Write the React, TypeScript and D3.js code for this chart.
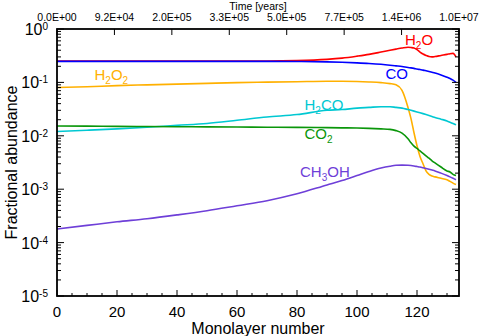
import React, { useEffect, useRef } from 'react'
import * as d3 from 'd3'

// monolayer grid shared by every species
const monolayer = [0, 10, 20, 30, 40, 50, 60, 70, 80, 90, 95, 100, 104, 108, 111, 113, 115, 117, 118, 119, 120, 121, 122, 123, 124, 125, 126, 128, 130, 131, 132, 133]

const h2o = [0.252, 0.252, 0.252, 0.252, 0.252, 0.252, 0.252, 0.252, 0.256, 0.27, 0.285, 0.31, 0.335, 0.37, 0.4, 0.42, 0.44, 0.455, 0.45, 0.44, 0.41, 0.37, 0.34, 0.32, 0.305, 0.3, 0.305, 0.32, 0.335, 0.345, 0.35, 0.3]
const co = [0.248, 0.248, 0.248, 0.248, 0.248, 0.248, 0.248, 0.248, 0.246, 0.242, 0.238, 0.232, 0.226, 0.218, 0.21, 0.204, 0.198, 0.19, 0.187, 0.183, 0.178, 0.174, 0.17, 0.165, 0.16, 0.155, 0.15, 0.138, 0.125, 0.118, 0.11, 0.1]
const h2o2 = [0.08, 0.083, 0.087, 0.09, 0.093, 0.096, 0.099, 0.101, 0.103, 0.105, 0.105, 0.104, 0.102, 0.099, 0.095, 0.09, 0.071, 0.034, 0.021, 0.0114, 0.0065, 0.0041, 0.003, 0.0022, 0.0019, 0.00176, 0.0017, 0.0016, 0.0015, 0.0014, 0.0013, 0.00122]
const h2co = [0.012, 0.0127, 0.0135, 0.0145, 0.0157, 0.017, 0.0195, 0.0225, 0.025, 0.03, 0.031, 0.033, 0.034, 0.035, 0.035, 0.034, 0.033, 0.031, 0.03, 0.029, 0.028, 0.027, 0.026, 0.025, 0.024, 0.023, 0.022, 0.0205, 0.019, 0.018, 0.017, 0.016]
const co2 = [0.0153, 0.0152, 0.015, 0.0149, 0.0148, 0.0147, 0.0146, 0.0145, 0.0144, 0.0142, 0.0141, 0.014, 0.0138, 0.0135, 0.0132, 0.0125, 0.0112, 0.0088, 0.0074, 0.0064, 0.0058, 0.0052, 0.0047, 0.0042, 0.0038, 0.0034, 0.0031, 0.0026, 0.0022, 0.0021, 0.0019, 0.0018]
const ch3oh = [1.8e-4, 2.1e-4, 2.45e-4, 2.8e-4, 3.3e-4, 3.95e-4, 4.9e-4, 6.1e-4, 8.2e-4, 1.2e-3, 1.45e-3, 1.8e-3, 2.15e-3, 2.5e-3, 2.7e-3, 2.8e-3, 2.82e-3, 2.8e-3, 2.77e-3, 2.72e-3, 2.66e-3, 2.6e-3, 2.52e-3, 2.44e-3, 2.36e-3, 2.28e-3, 2.2e-3, 2.0e-3, 1.8e-3, 1.7e-3, 1.6e-3, 1.5e-3]

const xTicks = [0, 20, 40, 60, 80, 100, 120]
const yDecades = [0, -1, -2, -3, -4, -5]
const timeLabels = ['0.0E+00', '9.2E+04', '2.0E+05', '3.3E+05', '5.0E+05', '7.7E+05', '1.4E+06', '1.0E+07']

const FONT = 'Liberation Sans, Arial, Helvetica, sans-serif'

const App = () => {
    const ref = useRef(null)

    var margin = { top: 29, right: 20, bottom: 40, left: 57 },
        width = 479 - margin.left - margin.right,
        height = 336 - margin.top - margin.bottom

    useEffect(() => {
        var x = d3.scaleLinear().domain([0, 134]).range([0, width])
        var y = d3.scaleLog().domain([1e-5, 1]).range([height, 0])
        var xTop = d3.scalePoint().domain(timeLabels).range([0, width])

        var root = d3.select(ref.current)
        root.selectAll('*').remove()

        var svg = root.append('g')
            .attr('transform', 'translate(' + margin.left + ',' + margin.top + ')')

        var series = [
            { name: 'H2O', values: h2o, color: '#ff0000' },
            { name: 'CO', values: co, color: '#0000ff' },
            { name: 'H2O2', values: h2o2, color: '#ffb000' },
            { name: 'H2CO', values: h2co, color: '#00c8d2' },
            { name: 'CO2', values: co2, color: '#0a960a' },
            { name: 'CH3OH', values: ch3oh, color: '#6e3fd8' },
        ]

        var line = d3.line()
            .x(function (d) { return x(d[0]) })
            .y(function (d) { return y(d[1]) })
            .curve(d3.curveMonotoneX)

        series.forEach(function (s) {
            svg.append('path')
                .attr('d', line(monolayer.map(function (m, i) { return [m, s.values[i]] })))
                .attr('fill', 'none')
                .attr('stroke', s.color)
                .attr('stroke-width', 1.6)
        })

        // frame
        svg.append('rect')
            .attr('width', width).attr('height', height)
            .attr('fill', 'none').attr('stroke', 'black').attr('stroke-width', 1.8)

        // bottom ticks (monolayer)
        var minorX = d3.range(0, 135, 5)
        minorX.forEach(function (m) {
            var len = m % 20 === 0 ? 6 : 3
            svg.append('line')
                .attr('x1', x(m)).attr('x2', x(m))
                .attr('y1', height).attr('y2', height - len)
                .attr('stroke', 'black').attr('stroke-width', 1)
        })
        xTicks.forEach(function (m) {
            svg.append('text')
                .attr('x', x(m)).attr('y', height + 21)
                .attr('text-anchor', 'middle')
                .style('font-family', FONT).style('font-size', '15px')
                .text(m)
        })

        // top axis (time)
        timeLabels.forEach(function (t) {
            svg.append('line')
                .attr('x1', xTop(t)).attr('x2', xTop(t))
                .attr('y1', 0).attr('y2', 6)
                .attr('stroke', 'black').attr('stroke-width', 1)
            svg.append('text')
                .attr('x', xTop(t)).attr('y', -8)
                .attr('text-anchor', 'middle')
                .style('font-family', FONT).style('font-size', '10.5px')
                .text(t)
        })

        // log ticks left + right
        yDecades.forEach(function (e) {
            var base = Math.pow(10, e)
            ;[0, width].forEach(function (x0) {
                var dir = x0 === 0 ? 1 : -1
                svg.append('line')
                    .attr('x1', x0).attr('x2', x0 + dir * 7)
                    .attr('y1', y(base)).attr('y2', y(base))
                    .attr('stroke', 'black').attr('stroke-width', 1)
                if (e < 0) {
                    d3.range(2, 10).forEach(function (k) {
                        svg.append('line')
                            .attr('x1', x0).attr('x2', x0 + dir * 4)
                            .attr('y1', y(k * base)).attr('y2', y(k * base))
                            .attr('stroke', 'black').attr('stroke-width', 1)
                    })
                }
            })
            var lab = svg.append('text')
                .attr('x', -9).attr('y', y(base) + 6)
                .attr('text-anchor', 'end')
                .style('font-family', FONT).style('font-size', '16px')
            lab.append('tspan').text('10')
            lab.append('tspan').attr('dy', -5).style('font-size', '10px').text(e === 0 ? '0' : '-' + (-e))
        })

        // axis titles
        svg.append('text')
            .attr('x', width / 2).attr('y', height + 38)
            .attr('text-anchor', 'middle')
            .style('font-family', FONT).style('font-size', '16px')
            .text('Monolayer number')
        svg.append('text')
            .attr('x', width / 2).attr('y', -19.5)
            .attr('text-anchor', 'middle')
            .style('font-family', FONT).style('font-size', '10.5px')
            .text('Time [years]')
        svg.append('text')
            .attr('transform', 'translate(' + (-40) + ',' + (height / 2) + ') rotate(-90)')
            .attr('text-anchor', 'middle')
            .style('font-family', FONT).style('font-size', '16px')
            .text('Fractional abundance')

        // species labels, positioned on the data scales
        var labels = [
            { parts: ['H', '2', 'O'], color: '#ff0000', m: 116, v: 0.5 },
            { parts: ['CO'], color: '#0000ff', m: 109.5, v: 0.115 },
            { parts: ['H', '2', 'O', '2'], color: '#ffb000', m: 12.5, v: 0.11 },
            { parts: ['H', '2', 'CO'], color: '#00c8d2', m: 82.5, v: 0.031 },
            { parts: ['CO', '2'], color: '#0a960a', m: 82.5, v: 0.0086 },
            { parts: ['CH', '3', 'OH'], color: '#6e3fd8', m: 81, v: 0.0017 },
        ]
        labels.forEach(function (l) {
            var t = svg.append('text')
                .attr('x', x(l.m)).attr('y', y(l.v))
                .attr('fill', l.color)
                .style('font-family', FONT).style('font-size', '15px')
            var sub = false
            l.parts.forEach(function (p, i) {
                var isSub = i % 2 === 1
                var ts = t.append('tspan').text(p)
                if (isSub && !sub) ts.attr('dy', 4).style('font-size', '10px')
                if (!isSub && sub) ts.attr('dy', -4)
                sub = isSub
            })
        })
    })

    return (
        <svg ref={ref} width={479} height={336} style={{ position: 'absolute', left: 0, top: 0, background: 'white' }}></svg>
    )
}

export default App
